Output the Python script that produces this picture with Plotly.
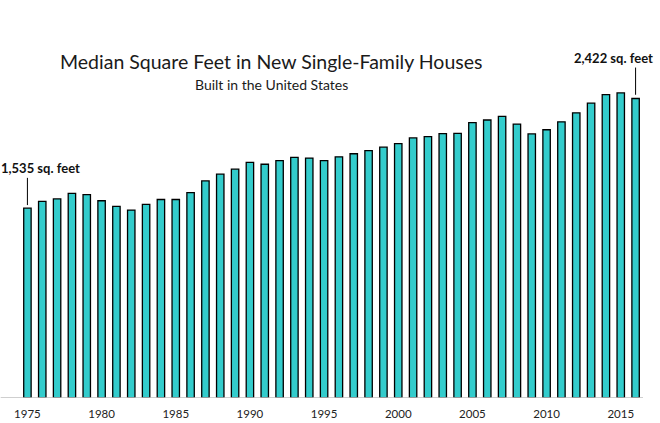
import plotly.graph_objects as go

years = list(range(1975, 2017))
sqft = [1535, 1590, 1610, 1655, 1645, 1595, 1550, 1520, 1565, 1605,
        1605, 1660, 1755, 1810, 1850, 1905, 1890, 1920, 1945, 1940,
        1920, 1950, 1975, 2000, 2028, 2057, 2103, 2114, 2137, 2140,
        2227, 2248, 2277, 2215, 2135, 2169, 2233, 2306, 2384, 2453,
        2467, 2422]
tick_years = [1975, 1980, 1985, 1990, 1995, 2000, 2005, 2010, 2015]

title_text = "Median Square Feet in New Single-Family Houses"
subtitle_text = "Built in the United States"
first_label = "1,535 sq. feet"
last_label = "2,422 sq. feet"

fig = go.Figure()
fig.add_trace(go.Bar(
    x=years, y=sqft, width=0.5,
    marker=dict(color="#33CCCC", line=dict(color="#000000", width=1.3)),
    hoverinfo="x+y",
))

font_fam = "Lato, 'Open Sans', sans-serif"

fig.update_layout(
    width=660, height=423,
    margin=dict(l=20, r=17, t=27, b=25),
    paper_bgcolor="white", plot_bgcolor="white",
    showlegend=False,
    xaxis=dict(range=[1974.5, 2016.5], tickvals=tick_years,
               ticktext=[str(t) for t in tick_years],
               showgrid=False, zeroline=False, showline=False,
               automargin=False,
               ticks="outside", ticklen=5, tickcolor="rgba(0,0,0,0)",
               tickfont=dict(family=font_fam, size=11.5, color="#222222")),
    yaxis=dict(range=[0, 3000], visible=False, showgrid=False, automargin=False),
    font=dict(family=font_fam),
)

# baseline
fig.add_shape(type="line", xref="paper", yref="y", x0=-0.031, x1=1.0, y0=0, y1=0,
              line=dict(color="#BFBFBF", width=1.3))

# leader lines
first_x, first_y = years[0], sqft[0]
last_x, last_y = years[-1], sqft[-1]
fig.add_shape(type="line", xref="x", yref="y", x0=first_x, x1=first_x,
              y0=first_y + 25, y1=first_y + 245, line=dict(color="#000000", width=1))
fig.add_shape(type="line", xref="x", yref="y", x0=last_x, x1=last_x,
              y0=last_y + 30, y1=last_y + 250, line=dict(color="#000000", width=1))

fig.add_annotation(x=first_x, y=first_y + 245, xref="x", yref="y",
                   text="<b>" + first_label + "</b>", showarrow=False,
                   xanchor="center", yanchor="bottom", xshift=13, yshift=0,
                   font=dict(family=font_fam, size=13, color="#111111"))
fig.add_annotation(x=last_x, y=last_y + 250, xref="x", yref="y",
                   text="<b>" + last_label + "</b>", showarrow=False,
                   xanchor="center", yanchor="bottom", xshift=-22, yshift=0,
                   font=dict(family=font_fam, size=13, color="#111111"))

fig.add_annotation(x=0.403, y=0.906, xref="paper", yref="paper",
                   text=title_text, showarrow=False,
                   xanchor="center", yanchor="middle",
                   font=dict(family=font_fam, size=19.5, color="#1a1a1a"))
fig.add_annotation(x=0.403, y=0.844, xref="paper", yref="paper",
                   text=subtitle_text, showarrow=False,
                   xanchor="center", yanchor="middle",
                   font=dict(family=font_fam, size=14, color="#1a1a1a"))

fig.write_html("out.html")
